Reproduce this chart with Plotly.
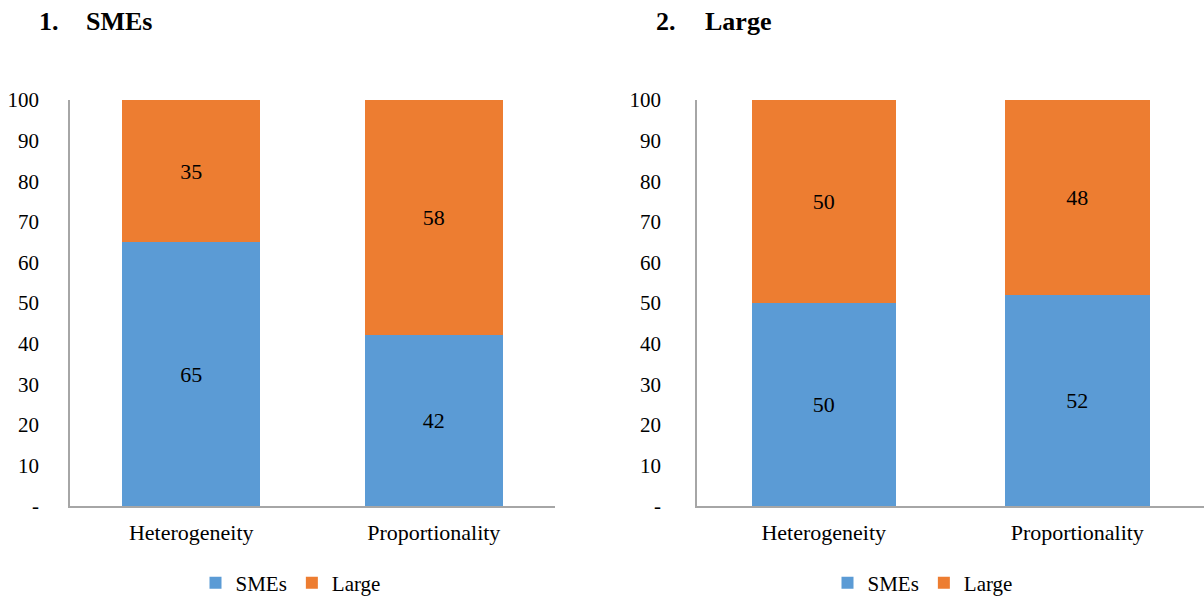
import plotly.graph_objects as go

categories = ["Heterogeneity", "Proportionality"]
smes_panel_smes = [65, 42]
smes_panel_large = [35, 58]
large_panel_smes = [50, 52]
large_panel_large = [50, 48]
y_tickvals = [0, 10, 20, 30, 40, 50, 60, 70, 80, 90, 100]
y_ticktext = ["-", "10", "20", "30", "40", "50", "60", "70", "80", "90", "100"]

BLUE = "#5B9BD5"
ORANGE = "#ED7D31"
FONT = "Liberation Serif, DejaVu Serif, serif"
W, H = 1204, 597

fig = go.Figure()


def add_panel(smes, large, xa, ya, legend):
    for name, vals, color in (("SMEs", smes, BLUE), ("Large", large, ORANGE)):
        fig.add_trace(go.Bar(
            x=categories, y=vals, name=name, marker_color=color,
            marker_line_width=0,
            text=vals, texttemplate="%{text}", textposition="inside",
            insidetextanchor="middle",
            textfont=dict(color="#000000", size=22, family=FONT),
            xaxis=xa, yaxis=ya, legend=legend, width=0.57,
        ))


add_panel(smes_panel_smes, smes_panel_large, "x", "y", "legend")
add_panel(large_panel_smes, large_panel_large, "x2", "y2", "legend2")

ydom = [1 - 506 / H, 1 - 100 / H]
xdom1 = [70 / W, 555 / W]
xdom2 = [697 / W, 1.0]

axis_x = dict(showline=True, linecolor="#A6A6A6", linewidth=1.5, showgrid=False,
              ticks="", tickfont=dict(family=FONT, size=22, color="#000000"),
              ticklabelstandoff=6, automargin=False, fixedrange=True)
axis_y = dict(showline=True, linecolor="#A6A6A6", linewidth=1.5, showgrid=False,
              range=[0, 100], tickvals=y_tickvals, ticktext=y_ticktext, ticks="",
              tickfont=dict(family=FONT, size=21, color="#000000"),
              zeroline=False, automargin=False, fixedrange=True)

legend_common = dict(orientation="h", yanchor="middle", y=14 / H,
                     xanchor="center", traceorder="normal",
                     font=dict(family=FONT, size=21, color="#000000"),
                     bgcolor="rgba(0,0,0,0)", itemwidth=30)

fig.update_layout(
    width=W, height=H,
    margin=dict(l=0, r=0, t=0, b=0, autoexpand=False),
    barmode="stack",
    plot_bgcolor="#FFFFFF",
    paper_bgcolor="#FFFFFF",
    font=dict(family=FONT, size=21, color="#000000"),
    xaxis=dict(domain=xdom1, anchor="y", **axis_x),
    yaxis=dict(domain=ydom, anchor="x", ticklabelstandoff=25, **axis_y),
    xaxis2=dict(domain=xdom2, anchor="y2", **axis_x),
    yaxis2=dict(domain=ydom, anchor="x2", ticklabelstandoff=30, **axis_y),
    legend=dict(x=(xdom1[0] + xdom1[1]) / 2 - 22 / W, **legend_common),
    legend2=dict(x=(xdom2[0] + xdom2[1]) / 2 - 28 / W, **legend_common),
)

titles = [("<b>1.</b>", 37), ("<b>SMEs</b>", 84), ("<b>2.</b>", 654), ("<b>Large</b>", 703)]
for txt, px in titles:
    fig.add_annotation(text=txt, x=px / W, y=1 - 22 / H, xref="paper", yref="paper",
                       xanchor="left", yanchor="middle", showarrow=False,
                       font=dict(family=FONT, size=26, color="#000000"))

fig.write_html("out.html")
